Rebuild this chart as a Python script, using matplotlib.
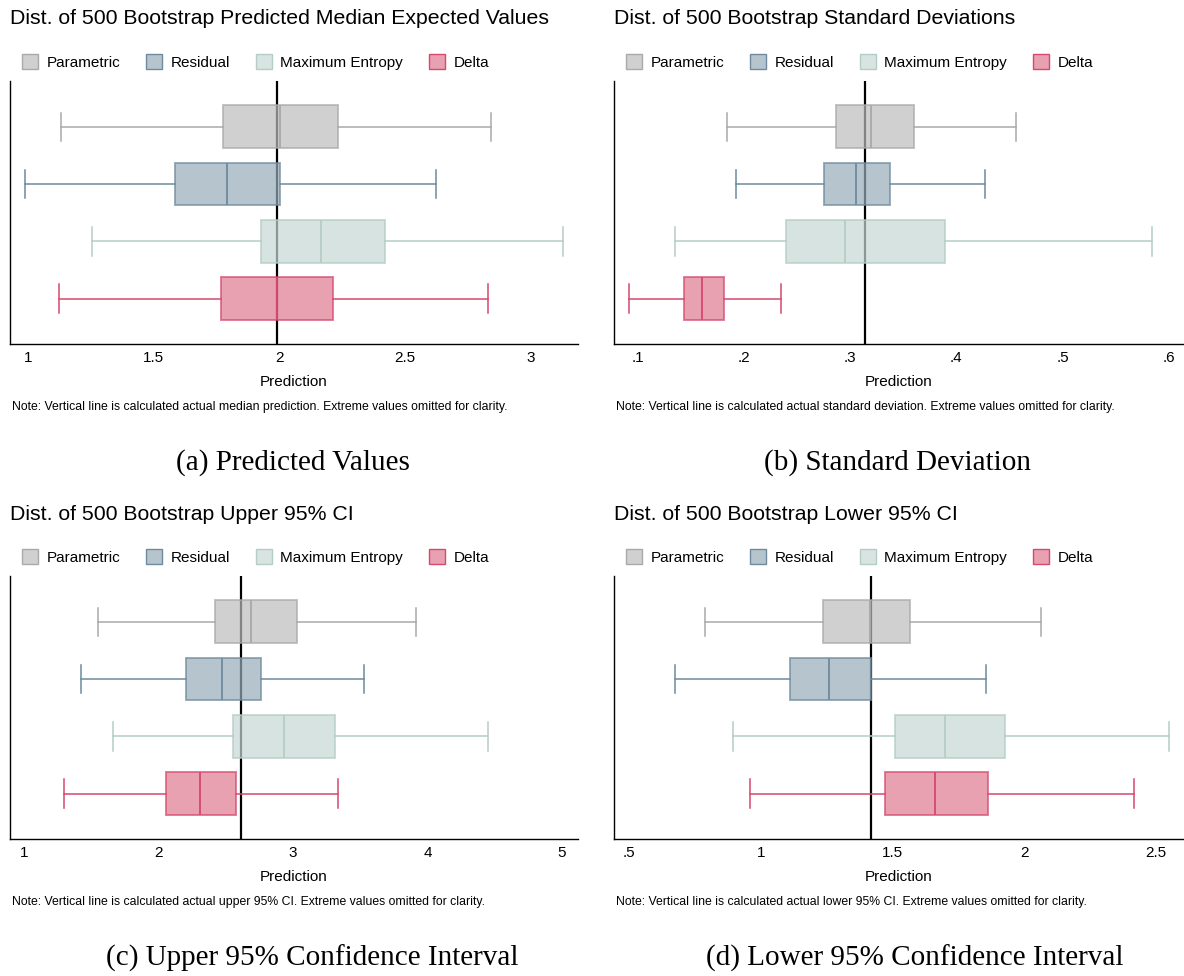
import matplotlib
matplotlib.use("Agg")
import matplotlib.pyplot as plt
from matplotlib.patches import Patch

plt.rcParams['font.family'] = ['Liberation Sans', 'DejaVu Sans']

methods = ['Parametric', 'Residual', 'Maximum Entropy', 'Delta']

# (whisker low, q1, median, q3, whisker high) per method, top to bottom
pred_stats = [(1.132, 1.777, 2.002, 2.233, 2.845),
              (0.988, 1.584, 1.792, 2.002, 2.625),
              (1.253, 1.926, 2.165, 2.420, 3.129),
              (1.124, 1.767, 1.990, 2.215, 2.833)]
sd_stats = [(0.184, 0.287, 0.320, 0.360, 0.456),
            (0.193, 0.276, 0.306, 0.338, 0.427),
            (0.135, 0.240, 0.295, 0.389, 0.584),
            (0.092, 0.144, 0.161, 0.181, 0.235)]
upper_stats = [(1.550, 2.416, 2.688, 3.026, 3.913),
               (1.417, 2.203, 2.472, 2.762, 3.525),
               (1.661, 2.552, 2.929, 3.309, 4.452),
               (1.292, 2.055, 2.305, 2.572, 3.335)]
lower_stats = [(0.790, 1.235, 1.413, 1.567, 2.065),
               (0.673, 1.111, 1.259, 1.420, 1.855),
               (0.893, 1.509, 1.700, 1.927, 2.548),
               (0.960, 1.472, 1.661, 1.863, 2.418)]

actual = [1.99, 0.3145, 2.611, 1.419]

pred_ticks = [1, 1.5, 2, 2.5, 3]
pred_labels = ['1', '1.5', '2', '2.5', '3']
sd_ticks = [0.1, 0.2, 0.3, 0.4, 0.5, 0.6]
sd_labels = ['.1', '.2', '.3', '.4', '.5', '.6']
upper_ticks = [1, 2, 3, 4, 5]
upper_labels = ['1', '2', '3', '4', '5']
lower_ticks = [0.5, 1, 1.5, 2, 2.5]
lower_labels = ['.5', '1', '1.5', '2', '2.5']

titles = ['Dist. of 500 Bootstrap Predicted Median Expected Values',
          'Dist. of 500 Bootstrap Standard Deviations',
          'Dist. of 500 Bootstrap Upper 95% CI',
          'Dist. of 500 Bootstrap Lower 95% CI']
notes = ['Note: Vertical line is calculated actual median prediction. Extreme values omitted for clarity.',
         'Note: Vertical line is calculated actual standard deviation. Extreme values omitted for clarity.',
         'Note: Vertical line is calculated actual upper 95% CI. Extreme values omitted for clarity.',
         'Note: Vertical line is calculated actual lower 95% CI. Extreme values omitted for clarity.']
captions = ['(a) Predicted Values', '(b) Standard Deviation',
            '(c) Upper 95% Confidence Interval', '(d) Lower 95% Confidence Interval']

# fill (as seen on white), base colour used with alpha, edge colour
legend_fill = ['#d0d0d0', '#b6c5cd', '#d7e4e1', '#e8a1b1']
base_fill = ['#bcbcbc', '#97acb8', '#c6d8d4', '#de7990']
edge_col = ['#a9a9a9', '#6f8a9e', '#b4cdc5', '#d6486d']

W, H = 1184, 976
fig = plt.figure(figsize=(W / 100, H / 100), dpi=100)


def fx(x):
    return x / W


def fy(y):
    return 1 - y / H


panels = [
    dict(stats=pred_stats, ticks=pred_ticks, labels=pred_labels, xlim=(0.927, 3.19),
         x0=10, x1=578, top=81, cx=293),
    dict(stats=sd_stats, ticks=sd_ticks, labels=sd_labels, xlim=(0.0779, 0.6144),
         x0=614, x1=1184, top=81, cx=897),
    dict(stats=upper_stats, ticks=upper_ticks, labels=upper_labels, xlim=(0.892, 5.12),
         x0=10, x1=578, top=576, cx=312),
    dict(stats=lower_stats, ticks=lower_ticks, labels=lower_labels, xlim=(0.443, 2.606),
         x0=614, x1=1184, top=576, cx=915),
]

for i, p in enumerate(panels):
    top = p['top']
    bottom = top + 263
    ax = fig.add_axes([fx(p['x0']), fy(bottom), fx(p['x1'] - p['x0']), 263 / H])
    ax.axvline(actual[i], color='black', lw=1.6, zorder=1)
    for j, s in enumerate(p['stats']):
        st = [dict(whislo=s[0], q1=s[1], med=s[2], q3=s[3], whishi=s[4], fliers=[])]
        ax.bxp(st, positions=[4 - j], widths=0.745, orientation='horizontal',
               patch_artist=True, showfliers=False, capwidths=0.5,
               boxprops=dict(facecolor=base_fill[j], alpha=0.7, edgecolor=edge_col[j], lw=1.4),
               medianprops=dict(color=edge_col[j], lw=1.3),
               whiskerprops=dict(color=edge_col[j], lw=1.1),
               capprops=dict(color=edge_col[j], lw=1.1), manage_ticks=False)
    for b in ax.patches:
        b.set_zorder(2)
    ax.set_ylim(0.21, 4.80)
    ax.set_xlim(*p['xlim'])
    ax.set_yticks([])
    ax.set_xticks(p['ticks'])
    ax.set_xticklabels(p['labels'])
    ax.tick_params(axis='x', length=0, pad=5, labelsize=11)
    for side in ['top', 'right']:
        ax.spines[side].set_visible(False)
    for side in ['left', 'bottom']:
        ax.spines[side].set_linewidth(1.0)
    ax.set_xlabel('Prediction', fontsize=11, labelpad=7)

    fig.text(fx(p['x0']), fy(top - 62), titles[i], fontsize=15.3, va='center', ha='left')
    handles = [Patch(facecolor=legend_fill[k], edgecolor=edge_col[k], lw=1.0, label=methods[k])
               for k in range(4)]
    fig.legend(handles=handles, ncol=4, loc='center left',
               bbox_to_anchor=(fx(p['x0'] + 12), fy(top - 19)), frameon=False,
               fontsize=11, handlelength=1.05, handleheight=1.05, handletextpad=0.55,
               columnspacing=1.7, borderpad=0, borderaxespad=0)
    fig.text(fx(p['x0'] + 2), fy(top + 326), notes[i], fontsize=8.8, va='center', ha='left')
    fig.text(fx(p['cx']), fy(top + 382), captions[i], fontsize=21, va='center', ha='center',
             family=['Liberation Serif', 'DejaVu Serif'])

fig.savefig('out.png', dpi=100)
